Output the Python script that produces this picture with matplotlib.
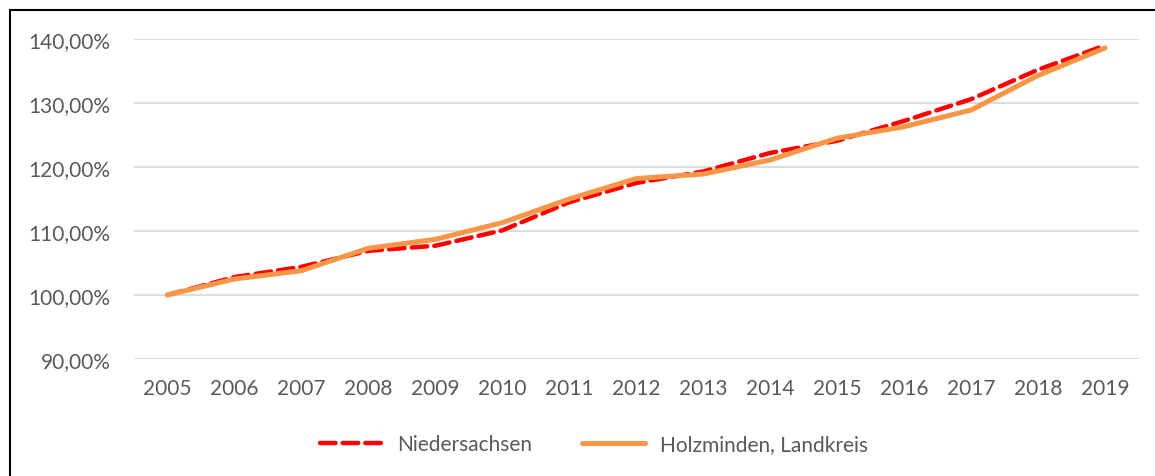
import matplotlib
matplotlib.use("Agg")
import matplotlib.pyplot as plt
from matplotlib.patches import Rectangle
from matplotlib.ticker import FuncFormatter

years = list(range(2005, 2020))
niedersachsen = [100.0, 102.8, 104.4, 106.9, 107.7, 110.1, 114.5, 117.5, 119.3,
                 122.2, 124.1, 127.2, 130.6, 135.2, 139.0]
holzminden = [100.0, 102.5, 103.8, 107.3, 108.7, 111.3, 115.0, 118.2, 118.9,
              121.1, 124.5, 126.3, 128.9, 134.3, 138.6]
yticks = [90, 100, 110, 120, 130, 140]

plt.rcParams["font.family"] = ["Lato", "DejaVu Sans"]
text_color = "#595959"
fs = 15

fig = plt.figure(figsize=(11.55, 4.77), dpi=100)
ax = fig.add_axes([134 / 1155, 1 - 360 / 477, (1138.5 - 134) / 1155, 320 / 477])

x = list(range(len(years)))
ax.plot(x, niedersachsen, color="#FF0000", lw=3.2, dashes=[3.5, 1.6],
        dash_capstyle="round", label="Niedersachsen", clip_on=False, zorder=2)
ax.plot(x, holzminden, color="#F79646", lw=3.6, solid_capstyle="round",
        label="Holzminden, Landkreis", clip_on=False, zorder=3)

ax.set_xlim(-0.5, len(years) - 0.5)
ax.set_ylim(90, 140)
ax.set_yticks(yticks)
ax.yaxis.set_major_formatter(FuncFormatter(lambda v, p: f"{v:.2f}%".replace(".", ",")))
ax.set_xticks(x)
ax.set_xticklabels([str(y) for y in years])
ax.tick_params(length=0, labelsize=fs, colors=text_color)
ax.tick_params(axis="y", pad=17)
ax.tick_params(axis="x", pad=14)
ax.grid(axis="y", color="#D9D9D9", lw=1.3)
ax.set_axisbelow(True)
for s in ax.spines.values():
    s.set_visible(False)

leg = fig.legend(loc="center", bbox_to_anchor=(594 / 1155, 1 - 445 / 477), ncol=2,
                 frameon=False, fontsize=fs, handlelength=3.0, handletextpad=0.7,
                 columnspacing=2.4)
for t in leg.get_texts():
    t.set_color(text_color)

fig.patches.append(Rectangle((10 / 1155, -0.1), 1.2, 1.1 - 11 / 477,
                             transform=fig.transFigure, fill=False,
                             edgecolor="black", lw=1.5))

fig.savefig("out.png", dpi=100)
